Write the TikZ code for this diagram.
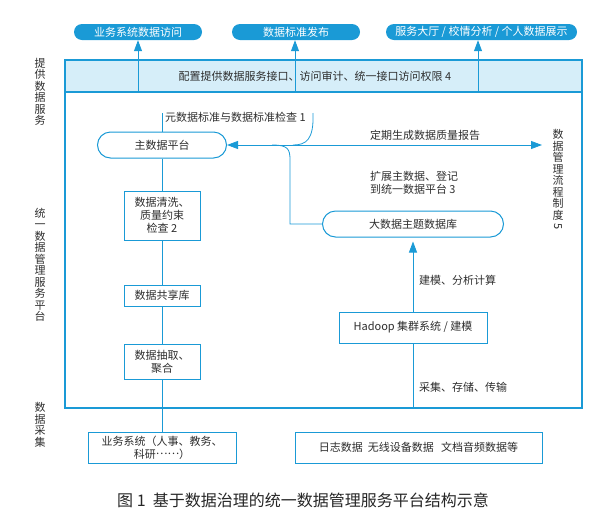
\documentclass[tikz,border=0pt]{standalone}
\usepackage{fontspec}
\setmainfont{Noto Sans CJK SC}
\usetikzlibrary{arrows.meta}
\definecolor{lineblue}{HTML}{1A9AD6}
\definecolor{bandblue}{HTML}{D6EEF9}
\definecolor{textgray}{HTML}{2E2E2E}
\begin{document}
\begin{tikzpicture}
  [x=1pt,y=-1pt,
   every node/.style={text=textgray,font=\fontsize{11}{13}\selectfont,inner sep=0pt},
   pill/.style={fill=lineblue,text=white,rounded corners=8pt,minimum height=16pt},
   roundbox/.style={draw=lineblue,line width=1pt,fill=white,rounded corners=13pt,minimum height=26pt},
   box/.style={draw=lineblue,line width=1pt,fill=white,align=center},
   side/.style={align=center,font=\fontsize{11}{11.5}\selectfont},
   link/.style={draw=lineblue,line width=0.8pt},
   arrow/.style={link,-{Triangle[length=11pt,width=8pt]}}]

  \useasboundingbox (0,0) rectangle (599,515);

  % top outputs
  \node[pill,minimum width=128pt] (p1) at (138,32) {业务系统数据访问};
  \node[pill,minimum width=128pt] (p2) at (296,32) {数据标准发布};
  \node[pill,minimum width=191pt] (p3) at (481.5,32) {服务大厅 / 校情分析 / 个人数据展示};

  % frame and service band
  \draw[link,line width=1.2pt] (65,60) rectangle (582,408);
  \node[draw=lineblue,line width=1.2pt,fill=bandblue,minimum width=517pt,minimum height=32pt] (cfg) at (323.5,76) {};
  \node (cfgtext) at (315,76) {配置提供数据服务接口、访问审计、统一接口访问权限 4};

  \coordinate (a1) at (138,92);
  \coordinate (a2) at (295,92);
  \coordinate (a3) at (478,92);
  \foreach \from/\to in {a1/p1,a2/p2,a3/p3}
    \draw[arrow] (\from) -- (\from |- \to.south);

  % side labels
  \node[side] (lserve) at (40,92) {提\\供\\数\\据\\服\\务};
  \node[side] (lplat) at (40,265) {统\\一\\数\\据\\管\\理\\服\\务\\平\\台};
  \node[side] (lcoll) at (40,425) {数\\据\\采\\集};
  \node[side] (lrule) at (558,180) {数\\据\\管\\理\\流\\程\\制\\度\\\rotatebox[origin=c]{-90}{5}};

  % left chain
  \node[roundbox,minimum width=129pt] (mdp) at (162,145) {主数据平台};
  \node[box,minimum width=76pt,minimum height=49pt] (qc) at (162,215.5) {数据清洗、\\质量约束\\检查 2};
  \node[box,minimum width=76pt,minimum height=21pt] (share) at (162,295.5) {数据共享库};
  \node[box,minimum width=76pt,minimum height=35pt] (extract) at (162,361.5) {数据抽取、\\聚合};
  \node[box,minimum width=148pt,minimum height=31pt] (biz) at (162,447.5) {业务系统（人事、教务、\\科研\raisebox{0.3em}{……}）};

  \foreach \from/\to in {mdp/qc,qc/share,share/extract,extract/biz}
    \draw[link] (\from) -- (\to);

  % metadata check
  \node[anchor=west] (meta) at (165,117) {元数据标准与数据标准检查 1};
  \coordinate (metatop) at (162,113);
  \coordinate (metaend) at (313,113);
  \draw[link] (metatop) -- (mdp);
  \draw[link] (metaend) .. controls (314,140) and (306,145) .. (293,145);

  % right chain
  \node[roundbox,minimum width=181pt] (bigdata) at (413,224) {大数据主题数据库};
  \node[box,minimum width=148pt,minimum height=31pt] (hadoop) at (413,327.5) {Hadoop 集群系统 / 建模};
  \node[box,minimum width=247pt,minimum height=31pt] (logs) at (418.5,447.5) {日志数据\ \ 无线设备数据\ \ \ 文档音频数据等};

  \coordinate (collect) at (413,408);
  \draw[link] (collect) -- (hadoop);
  \draw[arrow,shorten >=4pt] (hadoop) -- (bigdata);
  \node[anchor=west] (model) at (419,280) {建模、分析计算};
  \node[anchor=west] (store) at (419,387) {采集、存储、传输};

  % report and extension
  \coordinate (rep) at (542,145);
  \draw[link,{Triangle[length=11pt,width=8pt]}-{Triangle[length=11pt,width=8pt]}] (mdp.east) -- (rep);
  \node (report) at (425,135) {定期生成数据质量报告};
  \coordinate (fork) at (272,145);
  \draw[link] (fork) .. controls (288,145) and (290,149) .. (290,160) -- (290,224) -- (bigdata.west);
  \node[align=left] (extend) at (414,183) {扩展主数据、登记\\到统一数据平台 3};

  % caption
  \node[font=\fontsize{16}{18}\selectfont,text=black!85] (caption) at (303,500) {图 1\ \ 基于数据治理的统一数据管理服务平台结构示意};
\end{tikzpicture}
\end{document}
